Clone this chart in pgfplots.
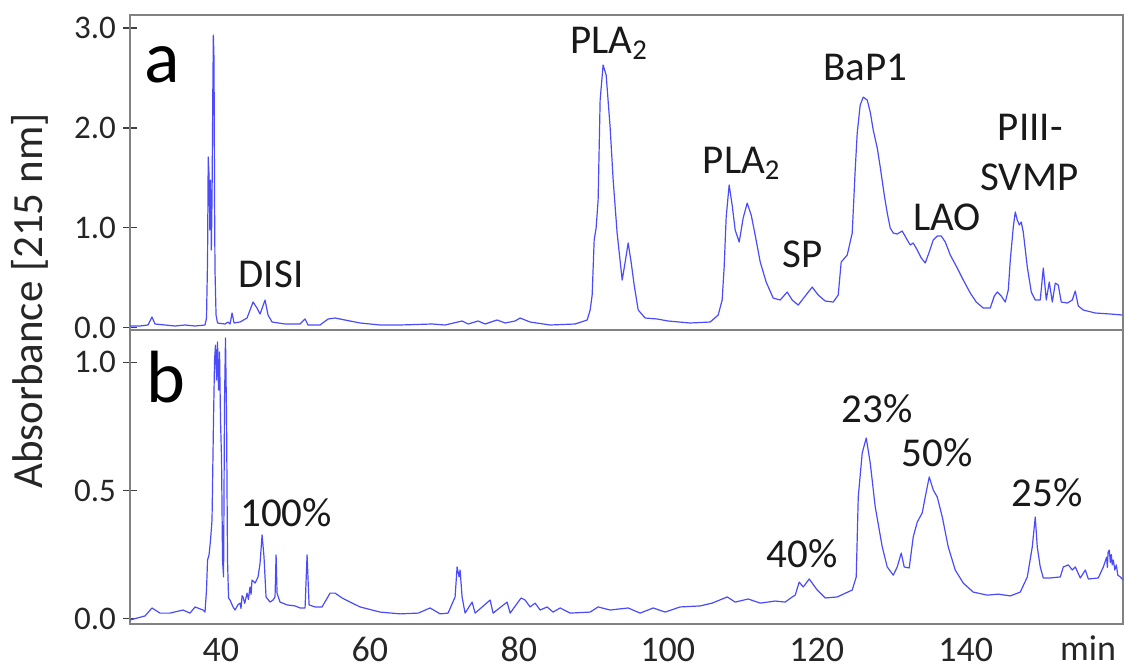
\documentclass[border=0pt]{standalone}
\usepackage{fontspec}
\setmainfont{Carlito}
\usepackage{pgfplots}
\usepackage{pgfplotstable}
\pgfplotsset{compat=1.18}
\definecolor{trace}{RGB}{75,75,252}
\definecolor{frame}{RGB}{130,130,130}

\pgfplotstableread{
t v
27.80 0.016
29.14 0.016
30.22 0.026
30.75 0.106
31.16 0.036
32.50 0.026
33.84 0.016
35.19 0.026
36.53 0.016
37.87 0.026
38.07 0.096
38.21 0.677
38.30 1.708
38.41 1.528
38.52 0.977
38.61 1.477
38.72 0.777
38.81 1.277
38.92 2.378
38.99 2.929
39.08 2.678
39.15 1.277
39.21 0.577
39.35 0.126
39.55 0.046
40.56 0.036
40.96 0.056
41.23 0.036
41.50 0.146
41.77 0.046
42.57 0.056
43.51 0.096
44.32 0.256
44.85 0.196
45.26 0.136
45.93 0.276
46.33 0.126
46.87 0.056
48.61 0.036
50.63 0.036
51.30 0.086
51.70 0.026
53.31 0.026
54.39 0.086
55.33 0.096
56.67 0.076
58.69 0.046
61.37 0.026
64.03 0.026
68.35 0.036
70.10 0.026
72.38 0.066
73.19 0.036
74.53 0.066
75.47 0.036
77.08 0.076
78.16 0.046
79.50 0.066
80.17 0.096
81.51 0.056
84.20 0.026
87.55 0.036
89.17 0.076
89.57 0.176
89.84 0.326
90.11 0.877
90.37 0.997
90.64 1.277
90.91 2.278
91.31 2.629
91.72 2.528
92.25 2.008
92.66 1.477
93.19 0.947
93.87 0.476
94.27 0.656
94.67 0.847
95.07 0.656
95.48 0.426
96.02 0.176
96.95 0.096
98.57 0.086
100.04 0.066
102.99 0.046
105.68 0.056
106.76 0.126
107.29 0.276
107.56 0.607
107.83 1.107
108.23 1.428
108.63 1.228
109.04 0.977
109.58 0.857
110.11 1.097
110.65 1.247
111.19 1.127
111.72 0.927
112.40 0.657
113.20 0.456
114.14 0.296
115.08 0.276
116.02 0.356
116.69 0.276
117.50 0.226
118.44 0.316
119.38 0.406
120.18 0.326
121.12 0.266
122.20 0.256
122.87 0.326
123.27 0.657
124.08 0.727
124.75 0.947
125.15 1.578
125.42 1.948
125.82 2.228
126.23 2.308
126.77 2.278
127.17 2.158
127.57 1.978
128.11 1.798
128.51 1.608
129.05 1.328
129.45 1.147
129.85 0.997
130.26 0.947
130.79 0.937
131.46 0.967
132.14 0.877
132.54 0.827
132.94 0.847
133.48 0.777
134.02 0.697
134.55 0.647
135.09 0.757
135.63 0.877
136.16 0.917
136.70 0.917
137.24 0.857
137.91 0.727
138.85 0.597
139.66 0.476
140.60 0.346
141.40 0.256
142.34 0.196
143.28 0.196
143.82 0.316
144.22 0.356
144.76 0.316
145.30 0.256
145.70 0.376
145.97 0.677
146.37 1.007
146.64 1.158
146.91 1.077
147.18 1.027
147.44 1.057
147.71 0.957
148.25 0.607
148.79 0.356
149.32 0.276
149.99 0.276
150.40 0.597
150.80 0.276
151.20 0.456
151.61 0.256
152.01 0.446
152.41 0.426
152.81 0.256
153.62 0.246
154.29 0.276
154.69 0.366
155.10 0.216
155.77 0.176
157.38 0.146
159.39 0.136
161.01 0.126
}\topdata

\pgfplotstableread{
t v
27.80 -0.005
29.82 0.011
30.75 0.042
31.83 0.022
33.17 0.022
34.92 0.034
35.86 0.022
36.53 0.046
37.60 0.034
37.87 0.026
38.07 0.112
38.21 0.229
38.41 0.249
38.61 0.307
38.81 0.385
39.01 0.775
39.15 1.009
39.28 1.067
39.42 0.931
39.55 1.079
39.68 0.892
39.82 1.040
39.95 0.775
40.09 0.620
40.22 0.229
40.36 0.163
40.49 0.853
40.62 1.095
40.76 0.786
40.89 0.229
41.03 0.081
41.23 0.073
41.63 0.046
41.90 0.034
42.30 0.055
42.57 0.061
42.70 0.040
42.85 0.090
42.97 0.085
43.20 0.060
43.51 0.100
43.70 0.075
43.91 0.124
44.05 0.095
44.18 0.151
44.59 0.139
44.99 0.163
45.26 0.217
45.53 0.327
45.79 0.241
46.06 0.085
46.60 0.065
47.00 0.073
47.27 0.085
47.41 0.249
47.54 0.100
47.94 0.065
48.88 0.054
49.96 0.050
50.63 0.042
51.30 0.042
51.57 0.249
51.84 0.054
52.64 0.046
53.58 0.046
54.12 0.073
54.66 0.100
55.33 0.100
56.27 0.081
57.34 0.065
58.69 0.046
61.37 0.026
64.06 0.019
66.50 0.022
68.08 0.042
69.43 0.019
70.50 0.022
71.44 0.085
71.71 0.202
71.98 0.163
72.11 0.190
72.38 0.085
72.78 0.022
73.72 0.065
74.13 0.022
76.14 0.073
76.54 0.022
78.42 0.065
78.83 0.022
80.30 0.081
80.84 0.073
81.51 0.046
82.18 0.061
82.86 0.034
83.79 0.046
84.60 0.026
85.54 0.042
86.88 0.022
89.57 0.026
90.64 0.046
92.25 0.034
94.67 0.042
96.28 0.022
98.03 0.042
99.64 0.026
101.65 0.046
104.34 0.050
105.95 0.061
107.97 0.085
109.04 0.065
110.79 0.077
112.40 0.061
114.41 0.069
115.75 0.065
116.69 0.085
117.10 0.092
117.63 0.143
118.17 0.124
118.98 0.155
120.05 0.112
121.12 0.081
122.74 0.085
124.75 0.112
125.29 0.163
125.56 0.475
126.09 0.646
126.63 0.705
127.17 0.607
127.84 0.436
128.78 0.280
129.45 0.202
130.26 0.170
130.79 0.202
131.33 0.256
131.73 0.202
132.40 0.198
132.94 0.319
133.48 0.377
134.15 0.413
134.55 0.475
135.09 0.553
135.63 0.502
136.16 0.475
136.84 0.397
137.64 0.280
138.58 0.190
139.66 0.139
140.99 0.104
142.88 0.092
144.36 0.096
145.97 0.089
147.31 0.104
148.25 0.163
148.92 0.280
149.32 0.397
149.59 0.280
149.99 0.202
150.40 0.159
151.34 0.159
152.68 0.163
153.09 0.202
153.76 0.210
154.29 0.190
154.69 0.202
155.37 0.159
156.04 0.190
156.44 0.155
157.78 0.159
158.46 0.202
158.90 0.240
159.00 0.200
159.10 0.260
159.26 0.268
159.40 0.220
159.53 0.250
159.65 0.210
159.80 0.229
160.00 0.190
160.20 0.210
160.40 0.170
160.74 0.163
161.10 0.151
}\bottomdata

\pgfplotsset{
  chrom/.style={
    scale only axis, width=496.5pt,
    xmin=27.8, xmax=161.1,
    clip=false,
    axis line style={draw=frame, line width=1.1pt},
    ytick pos=left,
    tick align=center,
    major tick length=7pt,
    ytick style={draw=black!75, line width=0.7pt},
    xtick style={draw=none},
    yticklabel style={font=\fontsize{16.5}{16.5}\selectfont, text=black!85},
    xticklabel style={font=\fontsize{18}{18}\selectfont, text=black!85, anchor=base, inner sep=0pt, yshift=-15pt},
  },
}
\tikzset{
  ann/.style={anchor=base, font=\fontsize{20.5}{20.5}\selectfont, text=black!90, inner sep=0pt},
  letter/.style={anchor=base, font=\fontsize{37}{37}\selectfont, inner sep=0pt},
}

\begin{document}
\begin{tikzpicture}
\useasboundingbox (0pt,0pt) rectangle (562.5pt,-334pt);
\begin{axis}[chrom,
  at={(65pt,-7.5pt)}, anchor=north west, height=157.5pt,
  ymin=-0.024, ymax=3.13,
  xtick=\empty,
  ytick={0,1,2,3}, yticklabels={0.0,1.0,2.0,3.0},
]
\addplot[trace, line width=0.6pt, line join=round] table[x=t,y=v] {\topdata};
\node[letter] at (axis cs:32.1,2.458) {a};
\node[ann] at (axis cs:46.73,0.404) {DISI};
\node[ann] at (axis cs:92.12,2.749) {PLA\textsubscript{2}};
\node[ann] at (axis cs:109.91,1.547) {PLA\textsubscript{2}};
\node[ann] at (axis cs:118.04,0.597) {SP};
\node[ann] at (axis cs:126.5,2.479) {BaP1};
\node[ann] at (axis cs:137.51,0.977) {LAO};
\node[ann] at (axis cs:148.65,1.877) {PIII-};
\node[ann] at (axis cs:148.52,1.377) {SVMP};
\end{axis}
\begin{axis}[chrom,
  at={(65pt,-165pt)}, anchor=north west, height=147pt,
  ymin=-0.0205, ymax=1.126,
  xtick={40,60,80,100,120,140}, xticklabels={40,60,80,100,120,140},
  ytick={0,0.5,1}, yticklabels={0.0,0.5,1.0},
]
\addplot[trace, line width=0.6pt, line join=round] table[x=t,y=v] {\bottomdata};
\node[letter] at (axis cs:32.63,0.845) {b};
\node[ann] at (axis cs:48.75,0.358) {100\%};
\node[ann] at (axis cs:118.04,0.198) {40\%};
\node[ann] at (axis cs:128.11,0.767) {23\%};
\node[ann] at (axis cs:136.16,0.592) {50\%};
\node[ann] at (axis cs:150.94,0.436) {25\%};
\node[anchor=base, inner sep=0pt, font=\fontsize{18}{18}\selectfont, text=black!85, yshift=-18pt] at (axis cs:156.4,-0.0205) {min};
\end{axis}
\node[rotate=90, font=\fontsize{21.5}{21.5}\selectfont, text=black!85] at (15pt,-150.5pt) {Absorbance [215 nm]};
\end{tikzpicture}
\end{document}
